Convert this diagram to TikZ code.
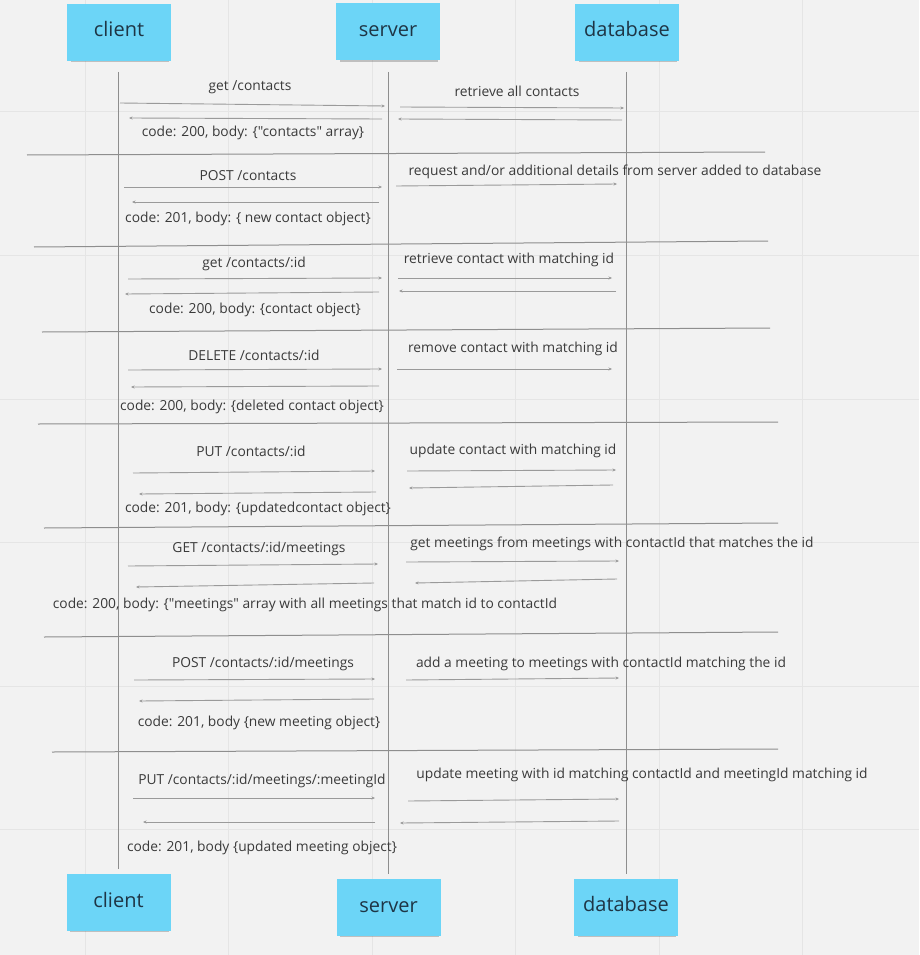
\documentclass[tikz,border=0pt]{standalone}
\usepackage{fontspec}
\newfontfamily\osans{Open Sans}
\usetikzlibrary{arrows.meta,shadows}
\definecolor{bg}{HTML}{F2F2F2}
\definecolor{gridc}{HTML}{E5E5E5}
\definecolor{stickyc}{HTML}{6CD5F7}
\definecolor{stickytext}{HTML}{1E3545}
\definecolor{linec}{HTML}{8E8E8E}
\definecolor{arrowc}{HTML}{9A9A9A}
\definecolor{txt}{HTML}{3A3A3A}
\tikzset{
 sticky/.style={fill=stickyc, minimum width=104pt, minimum height=57pt, inner sep=0pt,
   drop shadow={shadow xshift=1pt, shadow yshift=-3pt, shadow scale=0.95, opacity=0.3, fill=black!70}},
 stickytxt/.style={text=stickytext, font=\osans\fontsize{20}{24}\selectfont, inner sep=0pt, anchor=base},
 lbl/.style={text=txt, font=\osans\fontsize{13.8}{16}\selectfont, inner sep=0pt},
 msg/.style={draw=arrowc, line width=0.9pt, -{Stealth[length=3.5pt,width=3pt]}},
 lifeline/.style={draw=linec, line width=1pt},
 sepline/.style={draw=linec, line width=1pt},
 gridline/.style={draw=gridc, line width=1pt},
}
\newcommand\msgarrow[3]{\coordinate (#1s) at (#2);\coordinate (#1e) at (#3);\draw[msg] (#1s) -- (#1e);}
\newcommand\sepdraw[3]{\coordinate (#1s) at (#2);\coordinate (#1e) at (#3);\draw[sepline] (#1s) -- (#1e);}
\begin{document}
\begin{tikzpicture}[x=1pt,y=-1pt]
\useasboundingbox (0,0) rectangle (919,955);
\fill[bg] (0,0) rectangle (919,955);
% grid
\foreach \gx in {85,228.5,372,515.5,659,802.5} \draw[gridline] (\gx,0) -- (\gx,955);
\foreach \gy in {112,255.5,399,542.5,686,829.5} \draw[gridline] (0,\gy) -- (919,\gy);

% sticky notes
\node[sticky] (ctop) at (119,32.5) {};
\node[sticky] (stop) at (388,32) {};
\node[sticky] (dtop) at (627,32.5) {};
\node[sticky] (cbot) at (118.5,902) {};
\node[sticky] (sbot) at (388.5,907) {};
\node[sticky] (dbot) at (626,907) {};
\node[stickytxt] (ctopt) at (119,37) {client};
\node[stickytxt] (stopt) at (388,37) {server};
\node[stickytxt] (dtopt) at (627,37) {database};
\node[stickytxt] (cbott) at (118.5,907) {client};
\node[stickytxt] (sbott) at (388.5,912) {server};
\node[stickytxt] (dbott) at (626,911) {database};

% lifelines
\coordinate (cl1) at (118,72); \coordinate (cl2) at (118,869);
\coordinate (sl1) at (388,72); \coordinate (sl2) at (388,874);
\coordinate (dl1) at (626,72); \coordinate (dl2) at (626,874);
\draw[lifeline] (cl1) -- (cl2);
\draw[lifeline] (sl1) -- (sl2);
\draw[lifeline] (dl1) -- (dl2);

% separators
\sepdraw{p1}{27,155}{765,152}
\sepdraw{p2}{34,247}{768,241}
\sepdraw{p3}{42,332}{770,328}
\sepdraw{p4}{38,424}{778,422}
\sepdraw{p5}{44,528}{778,523}
\sepdraw{p6}{44,637}{778,632}
\sepdraw{p7}{52,752}{778,749}

% section 1
\node[lbl] (t1a) at (250,87) {get /contacts};
\msgarrow{a1}{120,103}{385,106}
\msgarrow{a2}{382,119}{129,118}
\node[lbl] (t1b) at (253,133) {code: 200, body: \{"contacts" array\}};
\node[lbl] (t1c) at (517,91) {retrieve all contacts};
\msgarrow{a3}{400,107}{624,108}
\msgarrow{a4}{622,120}{398,119}

% section 2
\node[lbl] (t2a) at (248,176) {POST /contacts};
\msgarrow{b1}{124,187}{382,187}
\msgarrow{b2}{379,202}{132,202}
\node[lbl] (t2b) at (248,219) {code: 201, body: \{ new contact object\}};
\node[lbl] (t2c) at (615,172) {request and/or additional details from server added to database};
\msgarrow{b3}{396,186}{617,184}

% section 3
\node[lbl] (t3a) at (254,264) {get /contacts/:id};
\msgarrow{c1}{128,279}{382,278}
\msgarrow{c2}{379,292}{125,294}
\node[lbl] (t3b) at (255,310) {code: 200, body: \{contact object\}};
\node[lbl] (t3c) at (509,260) {retrieve contact with matching id};
\msgarrow{c3}{398,278}{612,278}
\msgarrow{c4}{616,291}{399,291}

% section 4
\node[lbl] (t4a) at (254,355) {DELETE /contacts/:id};
\msgarrow{d1}{128,370}{382,369}
\msgarrow{d2}{379,386}{131,387}
\node[lbl] (t4b) at (252,407) {code: 200, body: \{deleted contact object\}};
\node[lbl] (t4c) at (513,349) {remove contact with matching id};
\msgarrow{d3}{397,369}{612,369}

% section 5
\node[lbl] (t5a) at (251,451) {PUT /contacts/:id};
\msgarrow{e1}{133,473}{375,471}
\msgarrow{e2}{376,492}{139,494}
\node[lbl] (t5b) at (258,509) {code: 201, body: \{updatedcontact object\}};
\node[lbl] (t5c) at (513,451) {update contact with matching id};
\msgarrow{e3}{407,471}{616,470}
\msgarrow{e4}{613,485}{409,488}

% section 6
\node[lbl] (t6a) at (259,549) {GET /contacts/:id/meetings};
\msgarrow{f1}{128,566}{378,564}
\msgarrow{f2}{374,583}{136,587}
\node[lbl] (t6b) at (305,605) {code: 200, body: \{"meetings" array with all meetings that match id to contactId};
\node[lbl] (t6c) at (612,544) {get meetings from meetings with contactId that matches the id};
\msgarrow{f3}{406,562}{619,561}
\msgarrow{f4}{617,579}{415,583}

% section 7
\node[lbl] (t7a) at (263,664) {POST /contacts/:id/meetings};
\msgarrow{g1}{134,680}{375,679}
\msgarrow{g2}{374,699}{139,701}
\node[lbl] (t7b) at (259,723) {code: 201, body \{new meeting object\}};
\node[lbl] (t7c) at (601,664) {add a meeting to meetings with contactId matching the id};
\msgarrow{g3}{406,680}{619,678}

% section 8
\node[lbl] (t8a) at (262,781) {PUT /contacts/:id/meetings/:meetingId};
\msgarrow{h1}{133,798}{375,798}
\msgarrow{h2}{375,822}{143,822}
\node[lbl] (t8b) at (262,848) {code: 201, body \{updated meeting object\}};
\node[lbl] (t8c) at (642,775) {update meeting with id matching contactId and meetingId matching id};
\msgarrow{h3}{408,801}{619,799}
\msgarrow{h4}{619,821}{400,823}
\end{tikzpicture}
\end{document}
